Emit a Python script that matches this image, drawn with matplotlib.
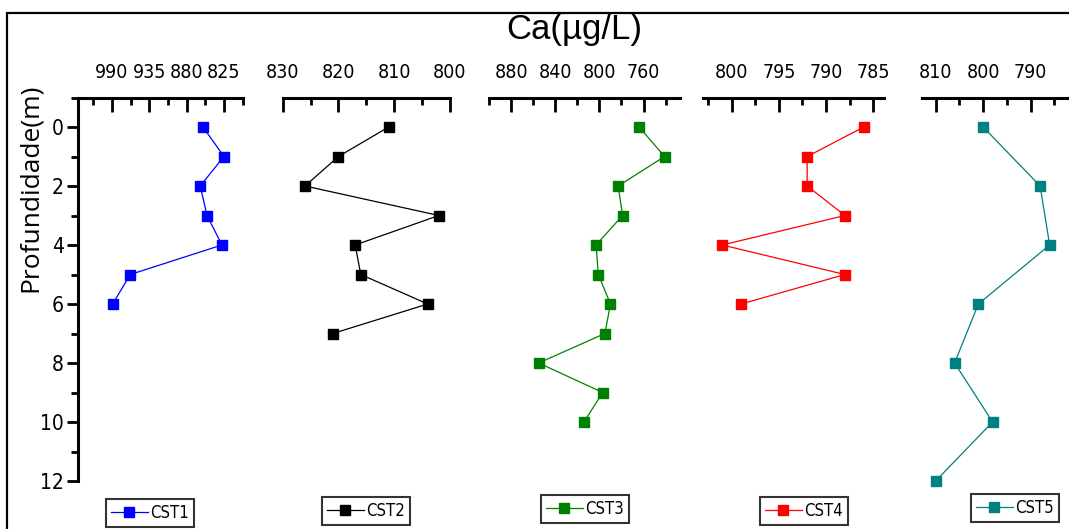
import matplotlib
matplotlib.use("Agg")
import matplotlib.pyplot as plt
from matplotlib import font_manager
from matplotlib.font_manager import FontProperties
from matplotlib.ticker import MultipleLocator, FixedLocator
from matplotlib.lines import Line2D
from matplotlib.patches import Rectangle

# depth (m) and calcium (ug/L) for each profile
depth_cst1 = [0, 1, 2, 3, 4, 5, 6]
ca_cst1 = [856, 825, 860, 850, 828, 963, 989]

depth_cst2 = [0, 1, 2, 3, 4, 5, 6, 7]
ca_cst2 = [811, 820, 826, 802, 817, 816, 804, 821]

depth_cst3 = [0, 1, 2, 3, 4, 5, 6, 7, 8, 9, 10]
ca_cst3 = [764, 741, 783, 779, 803, 801, 790, 795, 855, 797, 814]

depth_cst4 = [0, 1, 2, 3, 4, 5, 6]
ca_cst4 = [786, 792, 792, 788, 801, 788, 799]

depth_cst5 = [0, 2, 4, 6, 8, 10, 12]
ca_cst5 = [800, 788, 786, 801, 806, 798, 810]

labels = ["CST1", "CST2", "CST3", "CST4", "CST5"]
colors = ["#0000ff", "#000000", "#008000", "#ff0000", "#008080"]


def condensed_font():
    # look for a narrow/condensed face among the installed fonts
    files = [f.fname for f in font_manager.fontManager.ttflist]
    pref = ["LiberationSansNarrow-Regular", "DejaVuSansCondensed.ttf",
            "RobotoCondensed-Regular", "Condensed", "Narrow"]
    for key in pref:
        for fn in files:
            low = fn.lower()
            if key.lower() in low and "bold" not in low and "oblique" not in low \
                    and "italic" not in low and "light" not in low:
                return fn
    return None


cfile = condensed_font()


def nfont(size):
    if cfile:
        return FontProperties(fname=cfile, size=size)
    return FontProperties(family="Liberation Sans", size=size * 0.9)


W, H = 1069, 529
fig = plt.figure(figsize=(W / 100, H / 100), dpi=100)

# outer frame, open to the right and bottom
top = 1 - 13 / H
fig.patches.append(Rectangle((7 / W, -0.2), 1.2, top + 0.2,
                             transform=fig.transFigure, fill=False,
                             edgecolor="black", linewidth=1.6))

y_top, y_bot = 97.5, 481

# (left px, right px, xlim, major ticks, minor step)
panels = [
    (78, 243, (1040, 797), [990, 935, 880, 825], 27.5),
    (282.7, 450, (830, 800), [830, 820, 810, 800], 5),
    (489, 680, (900, 727), [880, 840, 800, 760], 20),
    (702.7, 884.3, (803.07, 783.83), [800, 795, 790, 785], 2.5),
    (922.3, 1067.7, (812.8, 782.2), [810, 800, 790], 5),
]
series = [(depth_cst1, ca_cst1), (depth_cst2, ca_cst2), (depth_cst3, ca_cst3),
          (depth_cst4, ca_cst4), (depth_cst5, ca_cst5)]
legend_centers = [(150, 513), (366, 511), (585, 509), (804, 511), (1015, 508)]

for i, ((x0, x1, xlim, majors, mstep), (d, ca)) in enumerate(zip(panels, series)):
    ax = fig.add_axes([x0 / W, 1 - y_bot / H, (x1 - x0) / W, (y_bot - y_top) / H])
    ax.set_facecolor("none")
    ax.plot(ca, d, color=colors[i], linewidth=0.9, marker="s", markersize=7,
            markeredgecolor=colors[i], label=labels[i], clip_on=False)
    ax.set_xlim(*xlim)
    for s in ["bottom", "right"]:
        ax.spines[s].set_visible(False)
    ax.spines["top"].set_linewidth(2.2)
    ax.xaxis.tick_top()
    ax.xaxis.set_major_locator(FixedLocator(majors))
    ax.xaxis.set_minor_locator(MultipleLocator(mstep))
    ax.tick_params(axis="x", which="both", direction="in", width=2, pad=11)
    ax.tick_params(axis="x", which="major", length=10)
    ax.tick_params(axis="x", which="minor", length=5)
    ax.set_xticks(majors)
    ax.set_xticklabels([str(m) for m in majors], fontproperties=nfont(14))
    if i == 0:
        ax.spines["left"].set_linewidth(2.2)
        ax.yaxis.set_minor_locator(MultipleLocator(1))
        ax.tick_params(axis="y", which="both", direction="out", width=2, pad=2)
        ax.tick_params(axis="y", which="major", length=8)
        ax.tick_params(axis="y", which="minor", length=5)
        yt = list(range(0, 13, 2))
        ax.set_yticks(yt)
        ax.set_yticklabels([str(v) for v in yt], fontproperties=nfont(15))
    else:
        ax.spines["left"].set_visible(False)
        ax.set_yticks([])
    ax.set_ylim(12, -1)

    cx, cy = legend_centers[i]
    handle = Line2D([], [], color=colors[i], linewidth=0.9, marker="s",
                    markersize=6.5, markeredgecolor=colors[i])
    leg = fig.legend([handle], [labels[i]], loc="center",
                     bbox_to_anchor=(cx / W, 1 - cy / H),
                     frameon=True, fancybox=False, handlelength=2.2,
                     handletextpad=0.15, borderpad=0.3, borderaxespad=0,
                     prop=nfont(12))
    leg.get_frame().set_edgecolor("black")
    leg.get_frame().set_linewidth(1.5)

fig.text(574 / W, 1 - 30 / H, "Ca(\u00b5g/L)", ha="center", va="center",
         fontsize=25, family="Liberation Sans")
fig.text(30 / W, 1 - 188 / H, "Profundidade(m)", ha="center", va="center",
         rotation=90, fontsize=19, family="Open Sans")

fig.savefig("out.png", dpi=100)
